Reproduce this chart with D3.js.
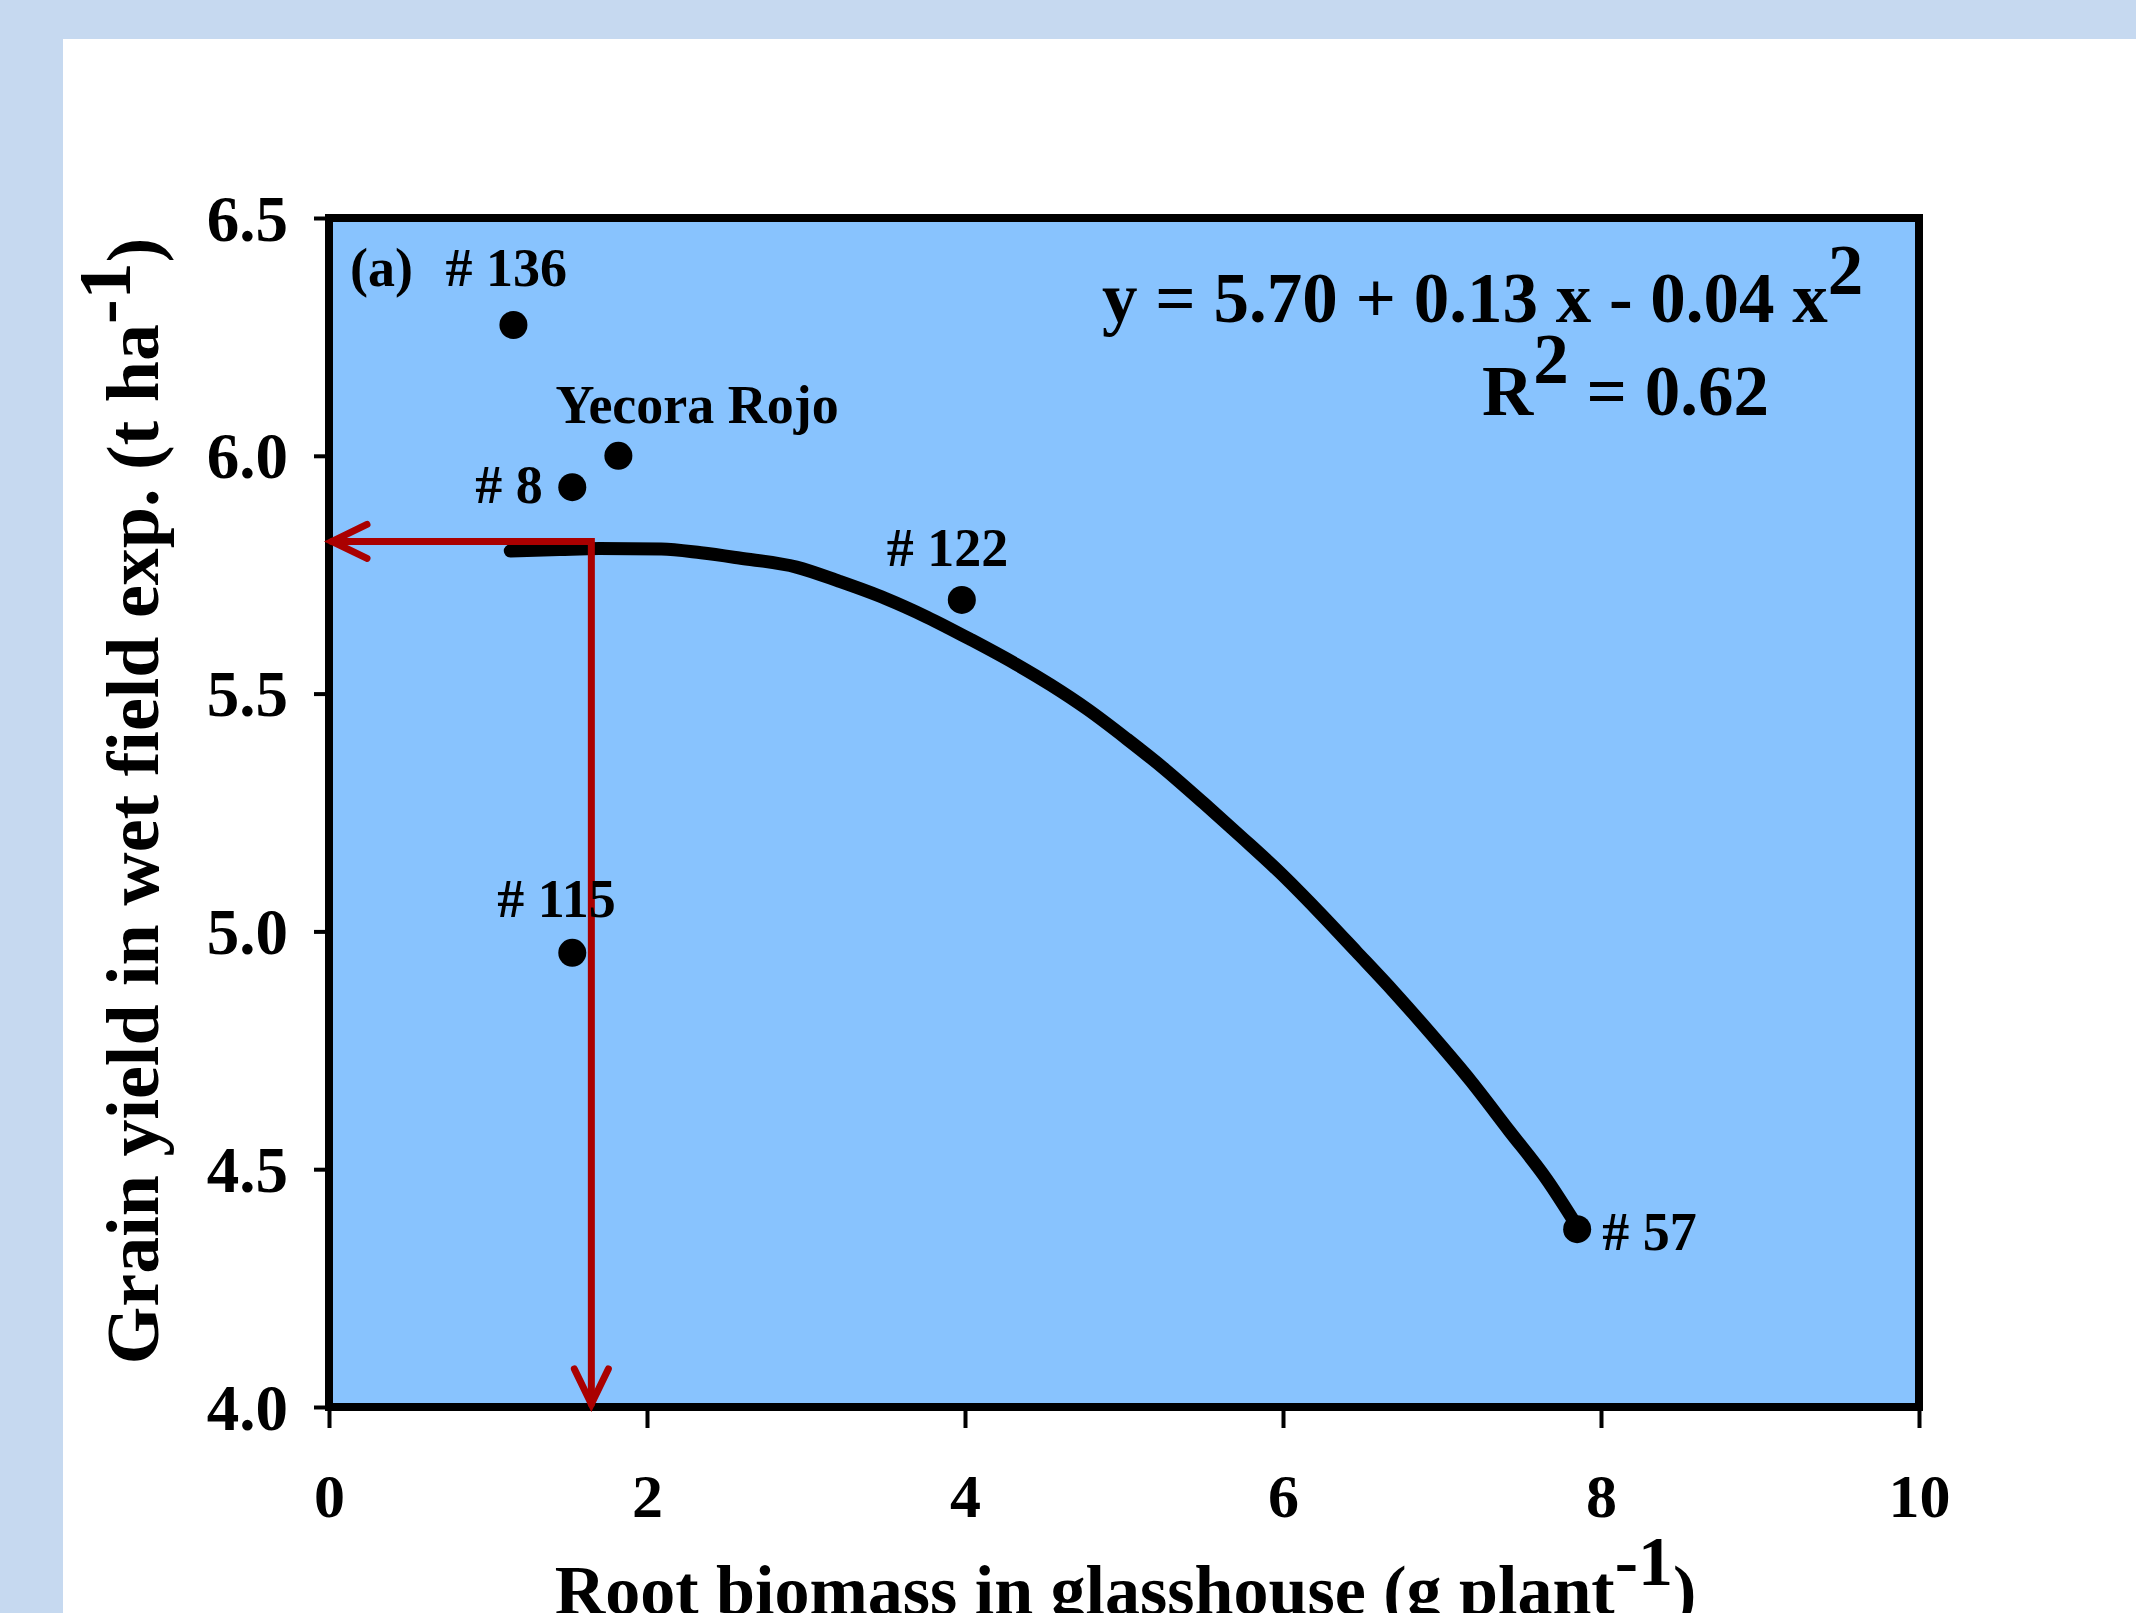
<!DOCTYPE html>
<html>
<head>
<meta charset="utf-8">
<script src="https://cdn.jsdelivr.net/npm/d3@7"></script>
<style>
  html, body { margin: 0; padding: 0; overflow: hidden; background: #c6d9f0; }
  svg { display: block; }
  text { font-family: "Liberation Serif", "Times New Roman", serif; font-weight: bold; fill: #000; }
</style>
</head>
<body>
<svg id="chart"></svg>
<script>
// axis ticks
var xTicks = [0, 2, 4, 6, 8, 10];
var yTicks = [4.0, 4.5, 5.0, 5.5, 6.0, 6.5];

// genotypes (points)
var genotypes = ["# 136", "Yecora Rojo", "# 8", "# 122", "# 115", "# 57"];
var rootBiomass = [1.16, 1.82, 1.53, 3.98, 1.53, 7.85];
var grainYield = [6.275, 6.00, 5.934, 5.697, 4.955, 4.374];

// fitted curve
var fitX = [1.14, 1.45, 1.70, 2.09, 2.34, 2.58, 2.94, 3.21, 3.50, 3.76, 4.04, 4.32, 4.54, 4.77, 5.02, 5.26, 5.50, 5.74, 5.98, 6.22, 6.46, 6.70, 6.94, 7.18, 7.42, 7.66, 7.85];
var fitY = [5.800, 5.803, 5.805, 5.804, 5.796, 5.785, 5.766, 5.736, 5.700, 5.661, 5.613, 5.562, 5.518, 5.467, 5.404, 5.340, 5.270, 5.198, 5.124, 5.043, 4.958, 4.872, 4.781, 4.686, 4.582, 4.478, 4.380];

// red guide arrows (optimum)
var optX = 1.65;
var optY = 5.82;

// label offsets from the dot, px
var labelDx = [-68, -63, -97, -75, -75, 25];
var labelDy = [-39, -33, 16, -34, -36, 21];

var width = 2136, height = 1613;

var svg = d3.select("#chart").attr("width", width).attr("height", height);

// page background with white panel
svg.append("rect").attr("width", width).attr("height", height).attr("fill", "#c6d9f0");
svg.append("rect").attr("x", 63).attr("y", 39).attr("width", width - 63).attr("height", height - 39).attr("fill", "#ffffff");

var x = d3.scaleLinear().domain([0, 10]).range([329, 1919]);
var y = d3.scaleLinear().domain([4, 6.5]).range([1407, 218]);

// plot area
svg.append("rect")
    .attr("x", x(0)).attr("y", y(6.5))
    .attr("width", x(10) - x(0)).attr("height", y(4) - y(6.5))
    .attr("fill", "#88c3fe");

// axes
var xAxis = svg.append("g")
    .attr("transform", "translate(0," + y(4) + ")")
    .call(d3.axisBottom(x).tickValues(xTicks).tickSizeInner(21).tickSizeOuter(0).tickFormat(d3.format("d")));
xAxis.select(".domain").remove();
xAxis.selectAll("line").attr("stroke", "#000").attr("stroke-width", 4);
xAxis.selectAll("text").attr("dy", null).attr("y", 110).style("font-size", "62px");

var yAxis = svg.append("g")
    .attr("transform", "translate(" + x(0) + ",0)")
    .call(d3.axisLeft(y).tickValues(yTicks).tickSizeInner(15).tickSizeOuter(0).tickPadding(26).tickFormat(d3.format(".1f")));
yAxis.select(".domain").remove();
yAxis.selectAll("line").attr("stroke", "#000").attr("stroke-width", 4);
yAxis.selectAll("text").attr("dy", "0.34em").style("font-size", "65px");

// frame
svg.append("rect")
    .attr("x", x(0)).attr("y", y(6.5))
    .attr("width", x(10) - x(0)).attr("height", y(4) - y(6.5))
    .attr("fill", "none").attr("stroke", "#000").attr("stroke-width", 8);

// fitted curve
var line = d3.line()
    .x(function(d, i) { return x(fitX[i]); })
    .y(function(d, i) { return y(fitY[i]); })
    .curve(d3.curveMonotoneX);

svg.append("path")
    .datum(fitX)
    .attr("d", line)
    .attr("fill", "none")
    .attr("stroke", "#000")
    .attr("stroke-width", 13)
    .attr("stroke-linecap", "round")
    .attr("stroke-linejoin", "round");

// red arrows
var red = "#aa0000";
var g = svg.append("g").attr("fill", "none").attr("stroke", red).attr("stroke-width", 7)
    .attr("stroke-linecap", "round").attr("stroke-linejoin", "miter");
g.append("path")
    .attr("d", "M" + (x(0) + 3) + "," + y(optY) + "L" + x(optX) + "," + y(optY) + "L" + x(optX) + "," + (y(4) - 3));
g.append("path")
    .attr("d", "M" + (x(0) + 38) + "," + (y(optY) - 17) + "L" + (x(0) + 3) + "," + y(optY) + "L" + (x(0) + 38) + "," + (y(optY) + 17));
g.append("path")
    .attr("d", "M" + (x(optX) - 17) + "," + (y(4) - 38) + "L" + x(optX) + "," + (y(4) - 3) + "L" + (x(optX) + 17) + "," + (y(4) - 38));

// points
svg.selectAll("circle.pt")
    .data(genotypes)
    .enter().append("circle")
    .attr("class", "pt")
    .attr("cx", function(d, i) { return x(rootBiomass[i]); })
    .attr("cy", function(d, i) { return y(grainYield[i]); })
    .attr("r", 14)
    .attr("fill", "#000");

svg.selectAll("text.lbl")
    .data(genotypes)
    .enter().append("text")
    .attr("class", "lbl")
    .attr("x", function(d, i) { return x(rootBiomass[i]) + labelDx[i]; })
    .attr("y", function(d, i) { return y(grainYield[i]) + labelDy[i]; })
    .style("font-size", "54px")
    .text(function(d) { return d; });

// panel letter
svg.append("text")
    .attr("x", x(0) + 21).attr("y", y(6.5) + 68)
    .style("font-size", "54px")
    .text("(a)");

// equation
var eq = svg.append("text").attr("x", 1102).attr("y", 322).style("font-size", "71px");
eq.append("tspan").text("y = 5.70 + 0.13 x - 0.04 x");
eq.append("tspan").attr("dy", -28).text("2");

var r2 = svg.append("text").attr("x", 1482).attr("y", 415).style("font-size", "71px");
r2.append("tspan").text("R");
r2.append("tspan").attr("dy", -32).text("2");
r2.append("tspan").attr("dy", 32).text(" = 0.62");

// axis titles
var xt = svg.append("text")
    .attr("x", (550 + 1701) / 2).attr("y", 1614)
    .attr("text-anchor", "middle")
    .style("font-size", "70px");
xt.append("tspan").text("Root biomass in glasshouse (g plant");
xt.append("tspan").attr("dy", -29).text("-1");
xt.append("tspan").attr("dy", 29).text(")");

var yt = svg.append("text")
    .attr("transform", "translate(158,801) rotate(-90)")
    .attr("text-anchor", "middle")
    .style("font-size", "74px");
yt.append("tspan").text("Grain yield in wet field exp. (t ha");
yt.append("tspan").attr("dy", -28).text("-1");
yt.append("tspan").attr("dy", 28).text(")");
</script>
</body>
</html>
